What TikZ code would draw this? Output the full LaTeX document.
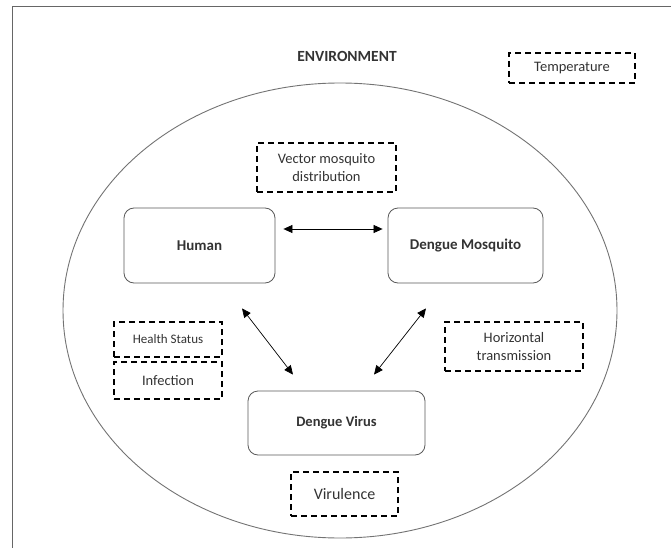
\documentclass[tikz,border=0pt]{standalone}
\usepackage{fontspec}
\setmainfont{Carlito}
\usetikzlibrary{arrows.meta}
\begin{document}
\begin{tikzpicture}[x=1pt,y=-1pt,every node/.style={text centered,text=black!80},
  entity/.style={draw=black!65,rounded corners=10pt,line width=0.8pt,minimum height=75pt,font=\fontsize{15}{18}\selectfont\bfseries},
  factor/.style={draw=black,dash pattern=on 6pt off 4pt,line width=1.3pt,inner sep=0pt,align=center,font=\fontsize{14.5}{18}\selectfont},
  link/.style={{Triangle[length=9pt,width=8pt]}-{Triangle[length=9pt,width=8pt]},line width=0.7pt}]

\useasboundingbox (0,0) rectangle (671,548);
\draw[black!60,line width=1pt] (671,7) -- (12,7) -- (12,548);
\draw[black!55,line width=0.9pt] (340,310.5) ellipse [x radius=277pt, y radius=227.5pt];

\node[font=\fontsize{15.5}{18}\selectfont\bfseries] (env) at (347,56) {ENVIRONMENT};
\node[factor,minimum width=126pt,minimum height=30pt] (temp) at (572,68) {Temperature};
\node[factor,minimum width=139pt,minimum height=49pt] (vec) at (326.5,167.5) {Vector mosquito\\distribution};

\node[entity,minimum width=151pt] (hum) at (199.5,245.5) {Human};
\node[entity,minimum width=155pt] (mos) at (465.5,245.5) {Dengue Mosquito};
\node[entity,minimum width=177pt,minimum height=64pt,font=\fontsize{14.5}{18}\selectfont\bfseries] (vir) at (336.5,423) {Dengue Virus};

\node[factor,minimum width=108pt,minimum height=35pt,font=\fontsize{13}{16}\selectfont] (hs) at (168,339.5) {Health Status};
\node[factor,minimum width=108pt,minimum height=37pt] (inf) at (168,380.5) {Infection};
\node[factor,minimum width=138pt,minimum height=49pt] (hor) at (514,346.5) {Horizontal\\transmission};
\node[factor,minimum width=107pt,minimum height=44pt,font=\fontsize{16}{19}\selectfont] (vrl) at (344.5,494) {Virulence};

%%% arrows
\draw[link] ([shift={(8,-16.5)}]hum.east) -- ([shift={(-5,-16.5)}]mos.west);
\draw[link] ([shift={(42.5,25)}]hum.south) -- ([shift={(-43.5,-16)}]vir.north);
\draw[link] ([shift={(-39.5,25)}]mos.south) -- ([shift={(37.5,-16)}]vir.north);

\end{tikzpicture}
\end{document}
